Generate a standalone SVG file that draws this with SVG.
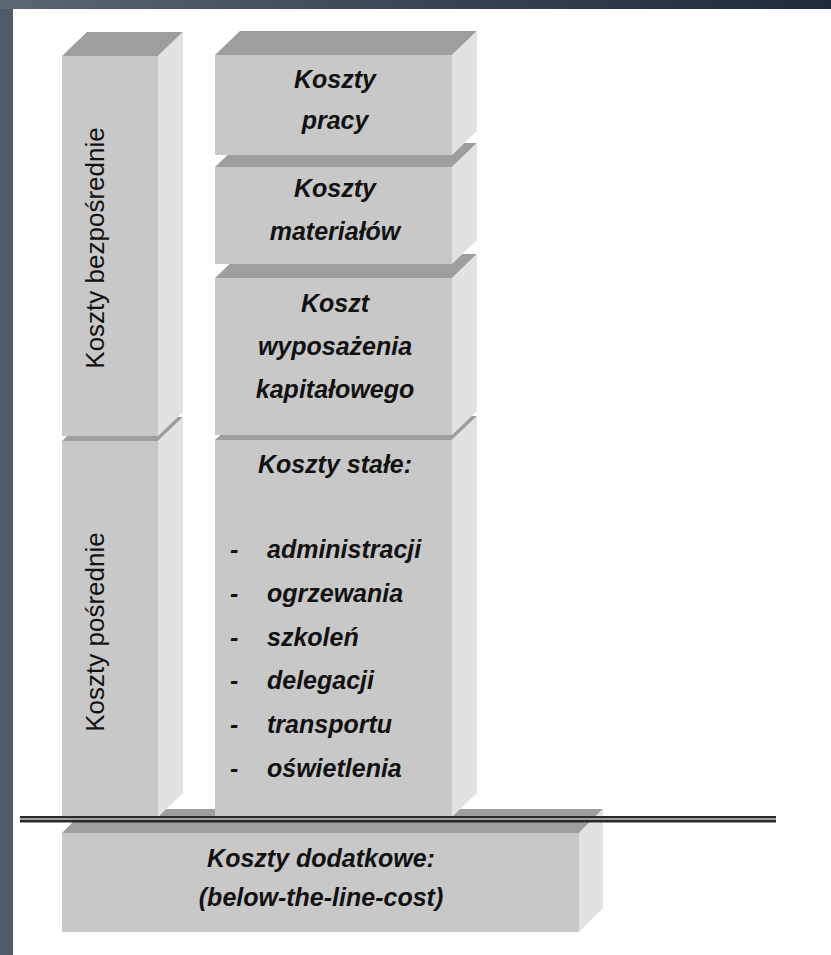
<svg xmlns="http://www.w3.org/2000/svg" width="831" height="955" viewBox="0 0 831 955">
  <defs>
    <linearGradient id="barGrad" x1="0" y1="0" x2="1" y2="0">
      <stop offset="0" stop-color="#5b6873"/>
      <stop offset="0.5" stop-color="#3a4653"/>
      <stop offset="1" stop-color="#1d2b3b"/>
    </linearGradient>
    <style>
      .front { fill: #c8c8c8; }
      .top { fill: #9e9e9e; }
      .side { fill: #e2e2e2; }
      .lbl { font-family: "Liberation Sans", Arial, sans-serif; font-size: 25px; font-weight: bold; font-style: italic; fill: #111; }
      .mid { text-anchor: middle; }
      .vert { font-family: "Liberation Sans", Arial, sans-serif; font-size: 26px; fill: #111; text-anchor: middle; }
    </style>
  </defs>

  <!-- page frame -->
  <rect x="0" y="0" width="831" height="955" fill="#ffffff"/>
  <rect x="0" y="0" width="13" height="955" fill="#4f5b66"/>
  <rect x="0" y="0" width="831" height="9" fill="url(#barGrad)"/>

  <!-- additional costs block (bottom) -->
  <g id="koszty-dodatkowe">
    <polygon class="top" points="62,833 86,809 603,809 579,833"/>
    <polygon class="side" points="579,833 603,809 603,908 579,932"/>
    <rect class="front" x="62" y="833" width="517" height="99"/>
    <text class="lbl mid" x="321" y="867">Koszty dodatkowe:</text>
    <text class="lbl mid" x="321" y="906">(below-the-line-cost)</text>
  </g>

  <!-- left column: indirect costs -->
  <g id="koszty-posrednie">
    <polygon class="top" points="62,441 87,417 183,417 158,441"/>
    <polygon class="side" points="158,441 183,417 183,793 158,817"/>
    <rect class="front" x="62" y="441" width="96" height="376"/>
    <text class="vert" transform="translate(104,632) rotate(-90)">Koszty pośrednie</text>
  </g>

  <!-- left column: direct costs -->
  <g id="koszty-bezposrednie">
    <polygon class="top" points="62,56 87,32 183,32 158,56"/>
    <polygon class="side" points="158,56 183,32 183,412 158,436"/>
    <rect class="front" x="62" y="56" width="96" height="380"/>
    <text class="vert" transform="translate(104,248) rotate(-90)">Koszty bezpośrednie</text>
  </g>

  <!-- right column, bottom up -->
  <g id="koszty-stale">
    <polygon class="top" points="215,440 240,416 477,416 452,440"/>
    <polygon class="side" points="452,440 477,416 477,793 452,817"/>
    <rect class="front" x="215" y="440" width="237" height="377"/>
    <text class="lbl mid" x="335" y="473">Koszty stałe:</text>
    <g class="lbl">
      <text x="230" y="558">-</text><text x="267" y="558">administracji</text>
      <text x="230" y="602">-</text><text x="267" y="602">ogrzewania</text>
      <text x="230" y="646">-</text><text x="267" y="646">szkoleń</text>
      <text x="230" y="689">-</text><text x="267" y="689">delegacji</text>
      <text x="230" y="733">-</text><text x="267" y="733">transportu</text>
      <text x="230" y="777">-</text><text x="267" y="777">oświetlenia</text>
    </g>
  </g>

  <g id="koszt-wyposazenia">
    <polygon class="top" points="215,278 240,254 477,254 452,278"/>
    <polygon class="side" points="452,278 477,254 477,411 452,435"/>
    <rect class="front" x="215" y="278" width="237" height="157"/>
    <text class="lbl mid" x="335" y="312">Koszt</text>
    <text class="lbl mid" x="335" y="355">wyposażenia</text>
    <text class="lbl mid" x="335" y="398">kapitałowego</text>
  </g>

  <g id="koszty-materialow">
    <polygon class="top" points="215,167 240,143 477,143 452,167"/>
    <polygon class="side" points="452,167 477,143 477,240 452,264"/>
    <rect class="front" x="215" y="167" width="237" height="97"/>
    <text class="lbl mid" x="335" y="197">Koszty</text>
    <text class="lbl mid" x="335" y="240">materiałów</text>
  </g>

  <g id="koszty-pracy">
    <polygon class="top" points="215,55 240,31 477,31 452,55"/>
    <polygon class="side" points="452,55 477,31 477,131 452,155"/>
    <rect class="front" x="215" y="55" width="237" height="100"/>
    <text class="lbl mid" x="335" y="88">Koszty</text>
    <text class="lbl mid" x="335" y="129">pracy</text>
  </g>

  <!-- the "line" separating below-the-line costs -->
  <g id="connectors">
    <rect x="20" y="816" width="756" height="6.5" fill="#2a2a2a"/>
    <rect x="20" y="818" width="756" height="2" fill="#a0a0a0"/>
  </g>
</svg>
